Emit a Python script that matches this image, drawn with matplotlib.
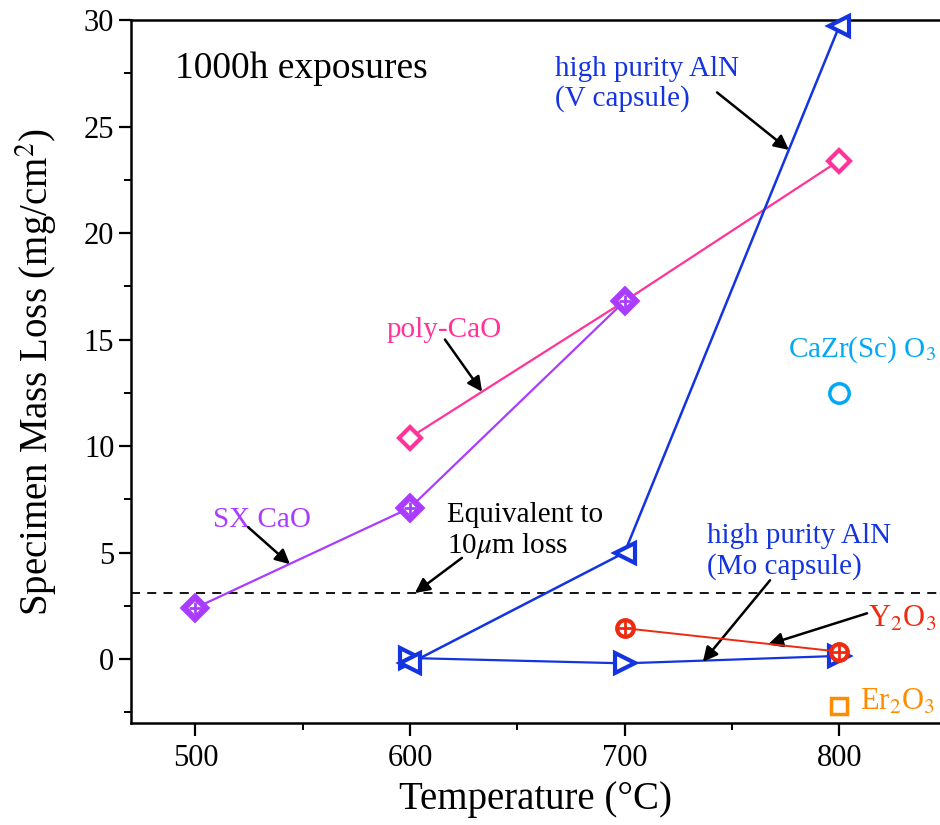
import matplotlib
matplotlib.use("Agg")
import matplotlib.pyplot as plt
from matplotlib.ticker import MultipleLocator

plt.rcParams['font.family'] = ['Liberation Serif', 'DejaVu Serif']
plt.rcParams['mathtext.fontset'] = 'stix'

# ---- data ----
sx_cao_T = [500, 600, 700]
sx_cao_loss = [2.4, 7.1, 16.8]

poly_cao_T = [600, 700, 800]
poly_cao_loss = [10.4, 16.8, 23.4]

aln_v_T = [600, 700, 800]
aln_v_loss = [-0.2, 5.0, 29.7]

aln_mo_T = [600, 700, 800]
aln_mo_loss = [0.05, -0.2, 0.15]

y2o3_T = [700, 800]
y2o3_loss = [1.45, 0.35]

er2o3_T = [800]
er2o3_loss = [-2.2]

cazr_T = [800]
cazr_loss = [12.5]

equiv_10um = 3.1

x_ticks = [500, 600, 700, 800]
y_ticks = [0, 5, 10, 15, 20, 25, 30]

# ---- colours ----
c_pink = '#ff3399'
c_purple = '#aa3cff'
c_blue = '#1434e0'
c_red = '#ee2a10'
c_orange = '#ff8c00'
c_lblue = '#00a8f5'

fig = plt.figure(figsize=(9.4, 8.25), dpi=100)
ax = fig.add_axes([131/940, 1 - 723/825, (940 - 131)/940, (723 - 20)/825])

ax.set_xlim(470, 847)
ax.set_ylim(-3, 30)

# dashed reference line
ax.axhline(equiv_10um, color='k', lw=1.3, ls=(0, (5, 4)), zorder=1)

# poly-CaO
ax.plot(poly_cao_T, poly_cao_loss, color=c_pink, lw=1.6, marker='D', ms=11,
        mfc='white', mec=c_pink, mew=3, zorder=3, clip_on=False)

# SX CaO
ax.plot(sx_cao_T, sx_cao_loss, color=c_purple, lw=1.6, marker='D', ms=11,
        mfc='white', mec=c_purple, mew=4.5, zorder=4, clip_on=False)
ax.plot(sx_cao_T, sx_cao_loss, ls='none', marker='+', ms=9, mec=c_purple,
        mew=2, zorder=5, clip_on=False)

# AlN V capsule
ax.plot(aln_v_T, aln_v_loss, color=c_blue, lw=1.8, marker='<', ms=15,
        mfc='white', mec=c_blue, mew=3, zorder=4, clip_on=False)

# AlN Mo capsule
ax.plot(aln_mo_T, aln_mo_loss, color=c_blue, lw=1.6, marker='>', ms=15,
        mfc='white', mec=c_blue, mew=3, zorder=3, clip_on=False)

# Y2O3
ax.plot(y2o3_T, y2o3_loss, color=c_red, lw=1.4, marker='o', ms=12,
        mfc='white', mec=c_red, mew=3, zorder=6, clip_on=False)
ax.plot(y2o3_T, y2o3_loss, ls='none', marker='+', ms=11, mec=c_red,
        mew=2, zorder=7, clip_on=False)

# Er2O3
ax.plot(er2o3_T, er2o3_loss, ls='none', marker='s', ms=12, mfc='white',
        mec=c_orange, mew=2.5, zorder=5, clip_on=False)

# CaZr(Sc)O3
ax.plot(cazr_T, cazr_loss, ls='none', marker='o', ms=14, mfc='white',
        mec=c_lblue, mew=2.5, zorder=5, clip_on=False)

# ---- axes styling ----
for s in ['left', 'bottom', 'top']:
    ax.spines[s].set_linewidth(1.8)
ax.spines['right'].set_visible(False)

ax.set_xticks(x_ticks)
ax.set_yticks(y_ticks)
ax.xaxis.set_minor_locator(MultipleLocator(50))
ax.yaxis.set_minor_locator(MultipleLocator(2.5))
ax.tick_params(which='major', direction='out', length=9, width=1.6,
               labelsize=22, top=False, right=False, pad=3)
ax.tick_params(axis='x', which='major', pad=6)
ax.tick_params(which='minor', direction='out', length=5, width=1.4,
               top=False, right=False)

ax.set_xlabel('Temperature (°C)', fontsize=28, labelpad=6)
ax.set_ylabel('Specimen Mass Loss (mg/cm$^2$)', fontsize=28, labelpad=18)

# ---- annotations ----
arrow = dict(arrowstyle='-|>', color='k', lw=1.8, mutation_scale=22,
             shrinkA=0, shrinkB=0)
fs = 21

ax.text(490.5, 27.3, '1000h exposures', fontsize=27, color='k',
        ha='left', va='baseline')

ax.text(589.3, 15.1, 'poly-CaO', fontsize=fs, color=c_pink,
        ha='left', va='baseline')
ax.annotate('', xy=(633.6, 12.55), xytext=(616.3, 15.0), arrowprops=arrow)

ax.text(508.2, 6.2, 'SX CaO', fontsize=fs, color=c_purple,
        ha='left', va='baseline')
ax.annotate('', xy=(544.1, 4.45), xytext=(524.5, 6.2), arrowprops=arrow)

ax.text(617.3, 6.0, 'Equivalent to\n10$\\mu$m loss', fontsize=fs,
        color='k', ha='left', va='center', linespacing=1.15)
ax.annotate('', xy=(602.3, equiv_10um), xytext=(624.2, 4.75),
            arrowprops=arrow)

ax.text(667.6, 27.0, 'high purity AlN\n(V capsule)', fontsize=fs,
        color=c_blue, ha='left', va='center', linespacing=1.15)
ax.annotate('', xy=(776.6, 23.9), xytext=(743.1, 26.6), arrowprops=arrow)

ax.text(738.4, 5.05, 'high purity AlN\n(Mo capsule)', fontsize=fs,
        color=c_blue, ha='left', va='center', linespacing=1.15)
ax.annotate('', xy=(736.5, -0.13), xytext=(767.8, 3.7), arrowprops=arrow)

ax.text(813.4, 1.5, 'Y$_2$O$_3$', fontsize=fs + 1, color=c_red,
        ha='left', va='baseline')
ax.annotate('', xy=(766.8, 0.68), xytext=(813.0, 2.15), arrowprops=arrow)

ax.text(809.7, -2.4, 'Er$_2$O$_3$', fontsize=fs + 1, color=c_orange,
        ha='left', va='baseline')

ax.text(776.2, 14.2, 'CaZr(Sc) O$_3$', fontsize=fs, color=c_lblue,
        ha='left', va='baseline')

fig.savefig('out.png', dpi=100)
